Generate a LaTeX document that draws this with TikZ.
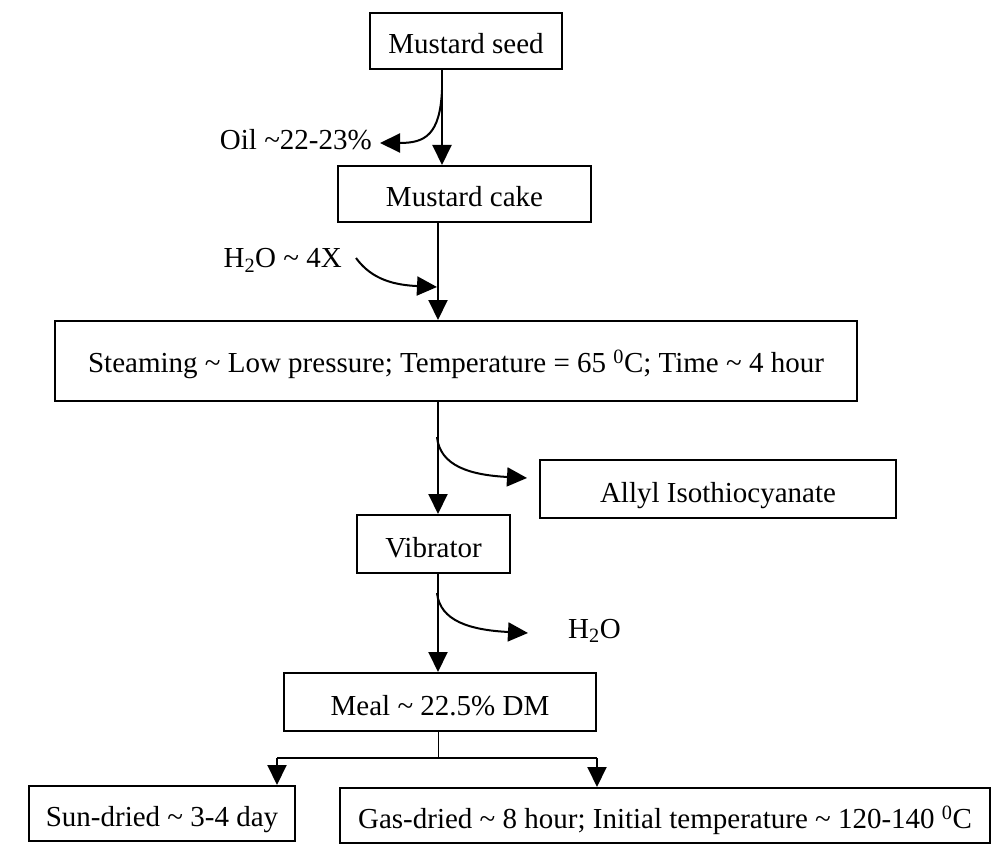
\documentclass[tikz,border=0pt]{standalone}
\usepackage{fontspec}
\setmainfont{Liberation Serif}
\usetikzlibrary{arrows.meta}
\begin{document}
\begin{tikzpicture}[x=1pt,y=-1pt,
  font=\fontsize{29}{34}\selectfont,
  box/.style={draw,line width=2pt,rectangle,inner sep=0pt,text height=26pt,text depth=0pt},
  lbl/.style={inner sep=0pt,text height=20pt,text depth=6pt},
  arr/.style={line width=2pt,-{Triangle[length=20pt,width=19pt]}},
  ln/.style={line width=2pt}]
\useasboundingbox (0,0) rectangle (997,848);
% boxes
\node[box,minimum width=192pt,minimum height=56pt] (seed) at (466,41) {Mustard seed};
\node[box,minimum width=253pt,minimum height=56pt] (cake) at (464.5,194) {Mustard cake};
\node[box,text height=23pt,minimum width=802pt,minimum height=80pt] (steam) at (456,361) {Steaming \textasciitilde{} Low pressure; Temperature = 65 \textsuperscript{0}C; Time \textasciitilde{} 4 hour};
\node[box,minimum width=356pt,minimum height=58pt] (allyl) at (718,489) {Allyl Isothiocyanate};
\node[box,minimum width=153pt,minimum height=58pt] (vib) at (433.5,544) {Vibrator};
\node[box,minimum width=312pt,minimum height=58pt] (meal) at (440,702) {Meal \textasciitilde{} 22.5\% DM};
\node[box,minimum width=266pt,minimum height=55pt] (sun) at (162,813.5) {Sun-dried \textasciitilde{} 3-4 day};
\node[box,minimum width=650pt,minimum height=55pt] (gas) at (665,815.5) {Gas-dried \textasciitilde{} 8 hour; Initial temperature \textasciitilde{} 120-140 \textsuperscript{0}C};
% labels
\node[lbl,anchor=east] (oil) at (372,143) {Oil \textasciitilde22-23\%};
\node[lbl,anchor=east] (h2oin) at (342,261) {H\textsubscript{2}O \textasciitilde{} 4X};
\node[lbl,anchor=west] (h2oout) at (568,631) {H\textsubscript{2}O};
% coordinates of the main line
\coordinate (m1) at (442,0);
\coordinate (m2) at (438,0);
\coordinate (split) at (438,758);
\coordinate (bl) at (277,758);
\coordinate (br) at (597,758);
% main flow
\draw[arr] (seed.south -| m1) -- (cake.north -| m1);
\draw[arr] (cake.south -| m2) -- (steam.north -| m2);
\draw[arr] (steam.south -| m2) -- (vib.north -| m2);
\draw[arr] (vib.south -| m2) -- (meal.north -| m2);
\draw[line width=1pt] (meal.south -| m2) -- (split);
\draw[ln] (bl) -- (br);
\draw[arr] (bl) -- (sun.north -| bl);
\draw[arr] (br) -- (gas.north -| br);
% side streams
\draw[arr] (442,90) .. controls (440,135) and (425,143) .. ([xshift=8pt]oil.east);
\draw[arr] ([xshift=14pt,yshift=3pt]h2oin.east) .. controls (372,280) and (395,285) .. (437,287);
\draw[arr] (437,437) .. controls (440,466) and (470,475) .. ([xshift=-12pt,yshift=11pt]allyl.west);
\draw[arr] (437,593) .. controls (440,621) and (470,630) .. ([xshift=-40pt,yshift=-2pt]h2oout.west);
\end{tikzpicture}
\end{document}
